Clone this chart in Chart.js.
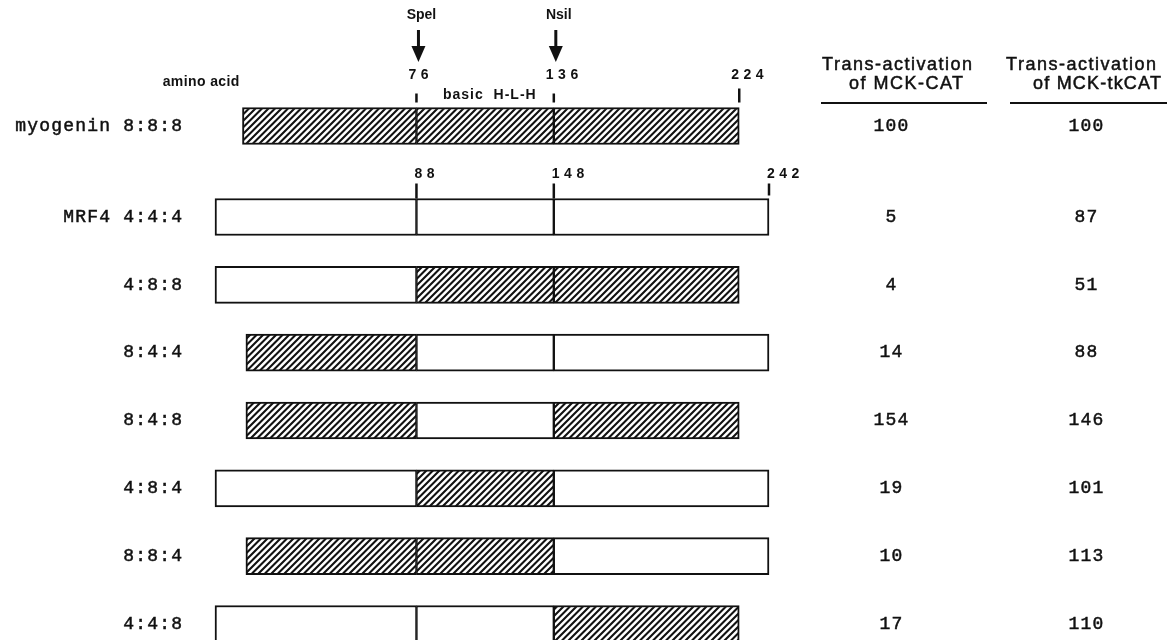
<!DOCTYPE html>
<html><head><meta charset="utf-8">
<script src="https://cdn.jsdelivr.net/npm/chart.js@4.4.0/dist/chart.umd.min.js"></script>
<style>
html,body{margin:0;padding:0;background:#fff;}
#wrap{position:relative;width:1167px;height:640px;overflow:hidden;}
#wrap canvas{position:absolute;left:0;top:0;}
</style>
</head><body>
<div id="wrap"><canvas id="cB" width="1167" height="640"></canvas><canvas id="cA" width="1167" height="640"></canvas></div>
<script>
// ---- data ----
const myogeninLabel = ['myogenin 8:8:8'];
const rowLabels = ['MRF4 4:4:4', '4:8:8', '8:4:4', '8:4:8', '4:8:4', '8:8:4', '4:4:8'];
const nTermSource = [4, 4, 8, 8, 4, 8, 4];
const bhlhSource  = [4, 8, 4, 4, 8, 8, 4];
const cTermSource = [4, 8, 4, 8, 4, 4, 8];
// segment boundaries, aligned amino-acid positions (MRF4 numbering, bHLH aligned)
const mrf4Bounds = [0, 88, 148, 242];
const myogeninBounds = [12, 88, 148, 229];
const myogeninStartInChimera = 13.5;
const myogeninAA = ['76', '136', '224'];
const mrf4AA = ['88', '148', '242'];
const siteNames = ['Spel', 'Nsil'];
const sitePositions = [88, 148];
const mckCAT   = [100, 5, 4, 14, 154, 19, 10, 17];
const mckTkCAT = [100, 87, 51, 88, 146, 101, 113, 110];

const INK = '#111';
function hatchFor(canvas){
  const S = 6.5;
  const t = document.createElement('canvas'); t.width = 13; t.height = 13;
  const g = t.getContext('2d');
  g.fillStyle = '#fff'; g.fillRect(0,0,13,13);
  g.strokeStyle = INK; g.lineWidth = 2.1; g.beginPath();
  for (let k = -2; k <= 3; k++) {
    const o = k * S;
    g.moveTo(o - 2, 15); g.lineTo(o + 15, -2);
  }
  g.stroke();
  return canvas.getContext('2d').createPattern(t, 'repeat');
}
function txt(ctx, s, x, y, font, align, sp, stroke){
  ctx.save();
  ctx.font = font; ctx.fillStyle = INK; ctx.textAlign = align; ctx.textBaseline = 'middle';
  let dx = 0;
  if ('letterSpacing' in ctx) { ctx.letterSpacing = sp + 'px'; dx = align === 'center' ? sp/2 : (align === 'right' ? sp : 0); }
  ctx.fillText(s, x + dx, y);
  if (stroke) { ctx.strokeStyle = INK; ctx.lineWidth = stroke; ctx.strokeText(s, x + dx, y); }
  ctx.restore();
}
function line(ctx, x1, y1, x2, y2, w){
  ctx.save(); ctx.strokeStyle = INK; ctx.lineWidth = w;
  ctx.beginPath(); ctx.moveTo(x1,y1); ctx.lineTo(x2,y2); ctx.stroke(); ctx.restore();
}
const MONO = '18px "Liberation Mono", monospace';
const SANS = '"Liberation Sans", Arial, sans-serif';
const COL1 = 891, COL2 = 1086, BAR = 37;

function segDatasets(sources, hatch, isMyogeninRow){
  return [0,1,2].map(r => {
    const data = sources[r].map(s => {
      if (s === 8) {
        const start = r === 0 ? (isMyogeninRow ? myogeninBounds[0] : myogeninStartInChimera) : myogeninBounds[r];
        return [start, myogeninBounds[r+1]];
      }
      return [mrf4Bounds[r], mrf4Bounds[r+1]];
    });
    return {
      data,
      backgroundColor: sources[r].map(s => s === 8 ? hatch : '#fff'),
      borderColor: INK,
      borderWidth: {top:2, bottom:2, left: r === 0 ? 2 : 1.5, right: r === 2 ? 2 : 1.5},
      borderSkipped: false,
      barThickness: BAR,
      grouped: false,
      clip: false
    };
  });
}
function baseOptions(padding, offset){
  return {
    indexAxis: 'y', responsive: false, animation: false,
    layout: {padding},
    scales: {
      x: {type:'linear', min:0, max:242, display:false},
      y: {type:'category', display:false, offset}
    },
    plugins: {legend:{display:false}, tooltip:{enabled:false}}
  };
}

// ---- chart A: header + myogenin ----
const cA = document.getElementById('cA');
const hatchA = hatchFor(cA);
const headerPlugin = {
  id: 'header',
  afterDatasetsDraw(chart){
    const ctx = chart.ctx, xs = chart.scales.x, ys = chart.scales.y;
    const yc = ys.getPixelForValue(0), top = yc - BAR/2;
    siteNames.forEach((n, i) => {
      const px = xs.getPixelForValue(sitePositions[i]) + 2;
      txt(ctx, n, px + 3, 15, 'bold 14px ' + SANS, 'center', 0);
      line(ctx, px, 30, px, 49, 3);
      ctx.save(); ctx.fillStyle = INK; ctx.beginPath();
      ctx.moveTo(px - 7, 46); ctx.lineTo(px + 7, 46); ctx.lineTo(px, 62); ctx.closePath(); ctx.fill(); ctx.restore();
    });
    txt(ctx, 'amino acid', 201, 82, 'bold 14px ' + SANS, 'center', 0.4);
    txt(ctx, 'basic  H-L-H', 443, 95, 'bold 14px ' + SANS, 'left', 1);
    myogeninAA.forEach((s, i) => {
      const px = xs.getPixelForValue(myogeninBounds[i+1]);
      txt(ctx, s, px - 8, 75, 'bold 14px ' + SANS, 'left', 4.5);
      line(ctx, px, i === 2 ? top - 19 : top - 14, px, top - 5, 2.5);
    });
    const hf = '18px ' + SANS;
    txt(ctx, 'Trans-activation', 897, 65, hf, 'center', 1.5, 0.5);
    txt(ctx, 'of MCK-CAT', 906, 84, hf, 'center', 1.5, 0.5);
    txt(ctx, 'Trans-activation', 1081, 65, hf, 'center', 1.5, 0.5);
    txt(ctx, 'of MCK-tkCAT', 1097, 84, hf, 'center', 1.2, 0.5);
    line(ctx, 821, 103, 987, 103, 2);
    line(ctx, 1010, 103, 1167, 103, 2);
    txt(ctx, myogeninLabel[0], 182, yc, MONO, 'right', 1.2, 0.5);
    txt(ctx, String(mckCAT[0]), COL1, yc, MONO, 'center', 1.2, 0.5);
    txt(ctx, String(mckTkCAT[0]), COL2, yc, MONO, 'center', 1.2, 0.5);
  }
};
new Chart(cA, {
  type: 'bar',
  data: {labels: myogeninLabel, datasets: segDatasets([[8],[8],[8]], hatchA, true)},
  options: baseOptions({left:215, right:398, top:90, bottom:478}, true),
  plugins: [headerPlugin]
});

// ---- chart B: MRF4 and chimeras ----
const cB = document.getElementById('cB');
const hatchB = hatchFor(cB);
const rowsPlugin = {
  id: 'rows',
  afterDatasetsDraw(chart){
    const ctx = chart.ctx, xs = chart.scales.x, ys = chart.scales.y;
    const top0 = ys.getPixelForValue(0) - BAR/2;
    mrf4AA.forEach((s, i) => {
      const px = xs.getPixelForValue(mrf4Bounds[i+1]);
      txt(ctx, s, px - 2, 174, 'bold 14px ' + SANS, 'left', 4.5);
      line(ctx, px, top0 - 15, px, i === 2 ? top0 - 3 : top0, 2.5);
    });
    rowLabels.forEach((lab, i) => {
      const yc = ys.getPixelForValue(i);
      txt(ctx, lab, 182, yc, MONO, 'right', 1.2, 0.5);
      txt(ctx, String(mckCAT[i+1]), COL1, yc, MONO, 'center', 1.2, 0.5);
      txt(ctx, String(mckTkCAT[i+1]), COL2, yc, MONO, 'center', 1.2, 0.5);
    });
  }
};
new Chart(cB, {
  type: 'bar',
  data: {labels: rowLabels, datasets: segDatasets([nTermSource, bhlhSource, cTermSource], hatchB, false)},
  options: baseOptions({left:215, right:398, top:217, bottom:16}, false),
  plugins: [rowsPlugin]
});
</script>
</body></html>
